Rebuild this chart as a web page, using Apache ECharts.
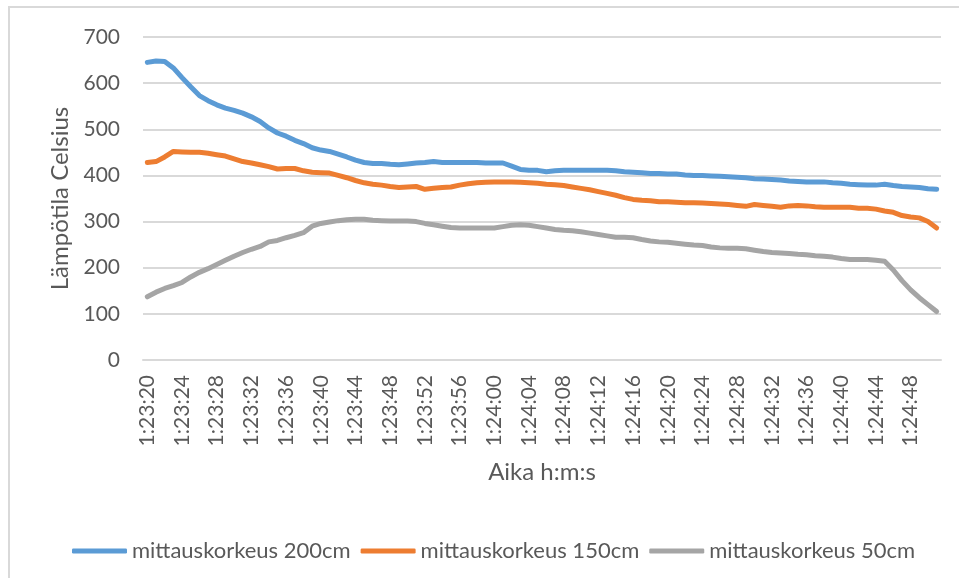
<!DOCTYPE html>
<html>
<head>
<meta charset="utf-8">
<script src="https://cdn.jsdelivr.net/npm/echarts@6/dist/echarts.min.js"></script>
<style>
html,body{margin:0;padding:0;background:#fff;}
#chart{width:959px;height:578px;}
</style>
</head>
<body>
<div id="chart"></div>
<script>
const categories = [
"1:23:20","1:23:21","1:23:22","1:23:23","1:23:24","1:23:25","1:23:26","1:23:27","1:23:28","1:23:29",
"1:23:30","1:23:31","1:23:32","1:23:33","1:23:34","1:23:35","1:23:36","1:23:37","1:23:38","1:23:39",
"1:23:40","1:23:41","1:23:42","1:23:43","1:23:44","1:23:45","1:23:46","1:23:47","1:23:48","1:23:49",
"1:23:50","1:23:51","1:23:52","1:23:53","1:23:54","1:23:55","1:23:56","1:23:57","1:23:58","1:23:59",
"1:24:00","1:24:01","1:24:02","1:24:03","1:24:04","1:24:05","1:24:06","1:24:07","1:24:08","1:24:09",
"1:24:10","1:24:11","1:24:12","1:24:13","1:24:14","1:24:15","1:24:16","1:24:17","1:24:18","1:24:19",
"1:24:20","1:24:21","1:24:22","1:24:23","1:24:24","1:24:25","1:24:26","1:24:27","1:24:28","1:24:29",
"1:24:30","1:24:31","1:24:32","1:24:33","1:24:34","1:24:35","1:24:36","1:24:37","1:24:38","1:24:39",
"1:24:40","1:24:41","1:24:42","1:24:43","1:24:44","1:24:45","1:24:46","1:24:47","1:24:48","1:24:49",
"1:24:50","1:24:51"
];

const seriesNames = ["mittauskorkeus 200cm", "mittauskorkeus 150cm", "mittauskorkeus 50cm"];

const values200 = [
645,648,647,633,612,592,573,562,553,546,
541,535,527,517,503,492,485,476,469,460,
455,452,446,440,433,428,426,426,424,423,
425,427,428,430,428,428,428,428,428,427,
427,427,420,413,411,411,408,410,411,411,
411,411,411,411,410,408,407,406,404,404,
403,403,401,400,400,399,398,397,396,395,
393,392,391,390,388,387,386,386,386,384,
383,381,380,379,379,381,378,376,375,374,
371,370
];

const values150 = [
428,430,440,452,451,450,450,448,445,442,
436,430,427,423,419,414,415,415,410,407,
406,405,400,395,389,384,381,379,376,374,
375,376,370,372,374,375,379,382,384,385,
386,386,386,385,384,383,381,380,378,375,
372,369,365,361,357,352,348,346,345,343,
343,342,341,341,340,339,338,337,335,333,
337,335,333,331,334,335,334,332,331,331,
331,331,329,329,327,323,320,313,310,308,
300,286
];

const values50 = [
137,147,155,161,168,180,190,198,207,216,
225,233,240,246,256,259,265,270,276,290,
296,299,302,304,305,305,303,302,301,301,
301,300,296,293,290,287,286,286,286,286,
286,289,292,293,292,289,286,283,281,280,
278,275,272,269,266,266,265,261,258,256,
255,253,251,249,248,245,243,242,242,241,
238,235,233,232,231,229,228,226,225,223,
220,218,218,218,216,214,195,172,152,135,
120,105
];

const yTicks = [0, 100, 200, 300, 400, 500, 600, 700];
const colors = ["#5B9BD5", "#ED7D31", "#A5A5A5"];
const FONT = "Lato";
const TXT = "#595959";

const chart = echarts.init(document.getElementById('chart'), null, {renderer: 'canvas'});
const allValues = [values200, values150, values50];

chart.setOption({
  animation: false,
  backgroundColor: '#ffffff',
  textStyle: {fontFamily: FONT, color: TXT},
  graphic: [{
    type: 'rect',
    shape: {x: 9, y: 7, width: 980, height: 620},
    style: {fill: 'none', stroke: '#D9D9D9', lineWidth: 2},
    silent: true
  }],
  grid: {left: 143, right: 18, top: 37, bottom: 218, containLabel: false},
  legend: {
    left: 67,
    top: 535,
    icon: 'roundRect',
    itemWidth: 55,
    itemHeight: 5,
    itemGap: 10,
    textStyle: {fontFamily: FONT, fontSize: 22, color: TXT, padding: [0, 0, 0, 0]},
    data: seriesNames
  },
  xAxis: {
    type: 'category',
    data: categories,
    boundaryGap: true,
    name: 'Aika h:m:s',
    nameLocation: 'middle',
    nameGap: 100,
    nameTextStyle: {fontFamily: FONT, fontSize: 24, color: TXT},
    axisLine: {show: true, lineStyle: {color: '#D9D9D9', width: 2}},
    axisTick: {show: false},
    axisLabel: {
      interval: 3,
      rotate: 90,
      margin: 15,
      fontFamily: FONT,
      fontSize: 21,
      color: TXT
    },
    splitLine: {show: false}
  },
  yAxis: {
    type: 'value',
    min: yTicks[0],
    max: yTicks[yTicks.length - 1],
    interval: 100,
    name: 'Lämpötila Celsius',
    nameLocation: 'middle',
    nameGap: 70,
    nameTextStyle: {fontFamily: FONT, fontSize: 24, color: TXT},
    axisLine: {show: false},
    axisTick: {show: false},
    axisLabel: {margin: 23, fontFamily: FONT, fontSize: 21, color: TXT},
    splitLine: {show: true, lineStyle: {color: '#D9D9D9', width: 2}}
  },
  series: seriesNames.map((n, k) => ({
    name: n,
    type: 'line',
    data: allValues[k],
    showSymbol: false,
    symbol: 'none',
    smooth: false,
    color: colors[k],
    lineStyle: {width: 5, color: colors[k], cap: 'round', join: 'round'}
  }))
});
</script>
</body>
</html>
